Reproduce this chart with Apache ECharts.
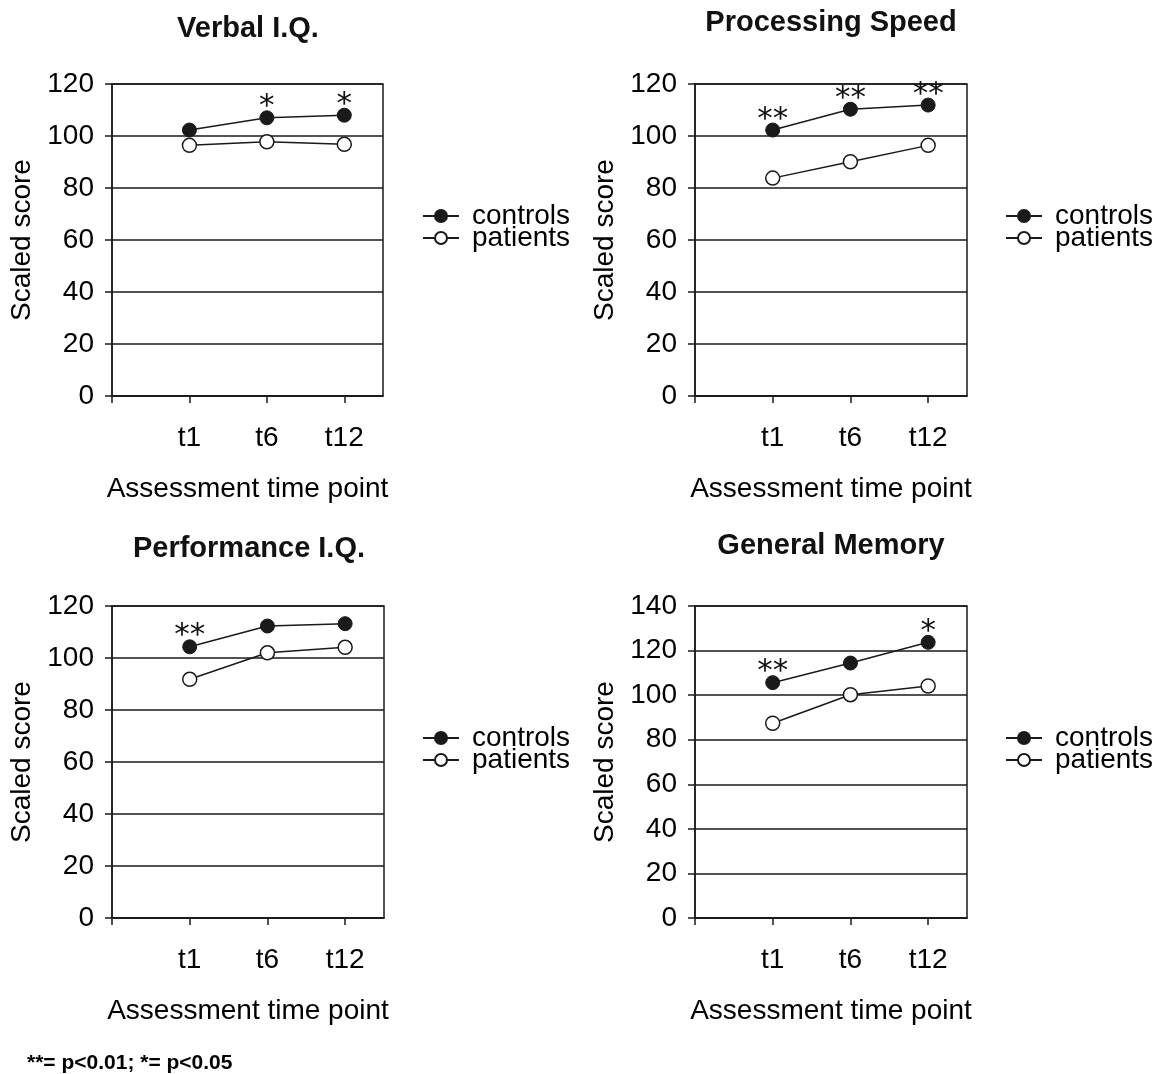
<!DOCTYPE html>
<html>
<head>
<meta charset="utf-8">
<script src="https://cdn.jsdelivr.net/npm/echarts@6/dist/echarts.min.js"></script>
<style>
html,body{margin:0;padding:0;background:#fff;}
#chart{width:1158px;height:1074px;}
</style>
</head>
<body>
<div id="chart"></div>
<script>
const categories = ['t1', 't6', 't12'];
const panelTitles = ['Verbal I.Q.', 'Processing Speed', 'Performance I.Q.', 'General Memory'];
const seriesNames = ['controls', 'patients'];

const verbalControls = [102.3, 107.0, 108.0];
const verbalPatients = [96.4, 97.8, 96.8];
const speedControls = [102.3, 110.3, 111.9];
const speedPatients = [83.8, 90.1, 96.4];
const perfControls = [104.3, 112.3, 113.2];
const perfPatients = [91.8, 102.0, 104.1];
const memoryControls = [105.6, 114.4, 123.7];
const memoryPatients = [87.4, 100.2, 104.1];

const verbalSig = ['', '*', '*'];
const speedSig = ['**', '**', '**'];
const perfSig = ['**', '', ''];
const memorySig = ['**', '', '*'];

const yMaxes = [120, 120, 120, 140];
const yInterval = 20;
const footnote = '**= p<0.01; *= p<0.05';

const controlsData = [verbalControls, speedControls, perfControls, memoryControls];
const patientsData = [verbalPatients, speedPatients, perfPatients, memoryPatients];
const sigData = [verbalSig, speedSig, perfSig, memorySig];

const FONT = '"Liberation Sans", Arial, sans-serif';
const INK = '#1a1a1a';

const grids = [
  {left: 112, top: 84, width: 271, height: 312},
  {left: 695, top: 84, width: 272, height: 312},
  {left: 112, top: 606, width: 272, height: 312},
  {left: 695, top: 606, width: 272, height: 312}
];
const titlePos = [[248, 14], [831, 8], [249, 534], [831, 531]];
const legendPos = [[422, 202], [1005, 202], [422, 724], [1005, 724]];

const tickPositions = [0].concat(categories.map((c, i) => i + 1));
const labelPositions = categories.map((c, i) => i + 1);

const option = {
  animation: false,
  backgroundColor: '#fff',
  textStyle: {fontFamily: FONT, color: '#000'},
  title: panelTitles.map((t, i) => ({
    text: t,
    left: titlePos[i][0],
    top: titlePos[i][1],
    textAlign: 'center',
    padding: 0,
    textStyle: {fontFamily: FONT, fontSize: 29, fontWeight: 'bold', color: '#111'}
  })),
  legend: legendPos.map(p => ({
    data: seriesNames,
    orient: 'vertical',
    left: p[0],
    top: p[1],
    padding: 0,
    itemGap: -6,
    itemWidth: 36,
    itemHeight: 15,
    selectedMode: false,
    textStyle: {fontFamily: FONT, fontSize: 28, color: '#000', lineHeight: 26, padding: [0, 0, 0, 8]}
  })),
  grid: grids.map(g => Object.assign({show: true, borderColor: INK, borderWidth: 1.5, backgroundColor: 'transparent'}, g)),
  xAxis: grids.map((g, i) => ({
    gridIndex: i,
    type: 'value',
    min: 0,
    max: categories.length + 0.5,
    interval: 1,
    name: 'Assessment time point',
    nameLocation: 'middle',
    nameGap: 79,
    nameTextStyle: {fontFamily: FONT, fontSize: 28, color: '#000'},
    splitLine: {show: false},
    axisLine: {show: true, lineStyle: {color: INK, width: 1.5}},
    axisTick: {show: true, inside: false, length: 7, lineStyle: {color: INK, width: 1.5}, customValues: tickPositions},
    axisLabel: {
      fontFamily: FONT, fontSize: 28, color: '#000', margin: 28,
      customValues: labelPositions,
      formatter: v => categories[Math.round(v) - 1] || ''
    }
  })),
  yAxis: grids.map((g, i) => ({
    gridIndex: i,
    type: 'value',
    min: 0,
    max: yMaxes[i],
    interval: yInterval,
    name: 'Scaled score',
    nameLocation: 'middle',
    nameGap: 76,
    nameTextStyle: {fontFamily: FONT, fontSize: 28, color: '#000'},
    axisLine: {show: true, lineStyle: {color: INK, width: 1.5}},
    axisTick: {show: true, inside: false, length: 7, lineStyle: {color: INK, width: 1.5}},
    splitLine: {show: true, lineStyle: {color: INK, width: 1.5}},
    axisLabel: {fontFamily: FONT, fontSize: 28, color: '#000', margin: 18}
  })),
  series: [],
  graphic: [{
    type: 'text',
    left: 27,
    top: 1053,
    style: {text: footnote, fontFamily: FONT, fontSize: 21, fontWeight: 'bold', fill: '#000'}
  }]
};

for (let i = 0; i < 4; i++) {
  const sig = sigData[i];
  option.series.push({
    name: 'patients',
    type: 'line',
    xAxisIndex: i, yAxisIndex: i,
    data: patientsData[i].map((v, k) => [k + 1, v]),
    symbol: 'circle', symbolSize: 14,
    lineStyle: {color: INK, width: 1.5},
    itemStyle: {color: '#fff', borderColor: INK, borderWidth: 1.5},
    emphasis: {disabled: true},
    z: 3
  });
  option.series.push({
    name: 'controls',
    type: 'line',
    xAxisIndex: i, yAxisIndex: i,
    data: controlsData[i].map((v, k) => [k + 1, v]),
    symbol: 'circle', symbolSize: 14,
    lineStyle: {color: INK, width: 1.5},
    itemStyle: {color: INK, borderColor: INK, borderWidth: 1},
    emphasis: {disabled: true},
    label: {
      show: true, position: 'top', distance: -12,
      fontFamily: '"DejaVu Sans", sans-serif', fontSize: 31, color: '#111', lineHeight: 30,
      formatter: p => sig[p.dataIndex]
    },
    z: 4
  });
}

const chart = echarts.init(document.getElementById('chart'), null, {renderer: 'canvas'});
chart.setOption(option);
</script>
</body>
</html>
